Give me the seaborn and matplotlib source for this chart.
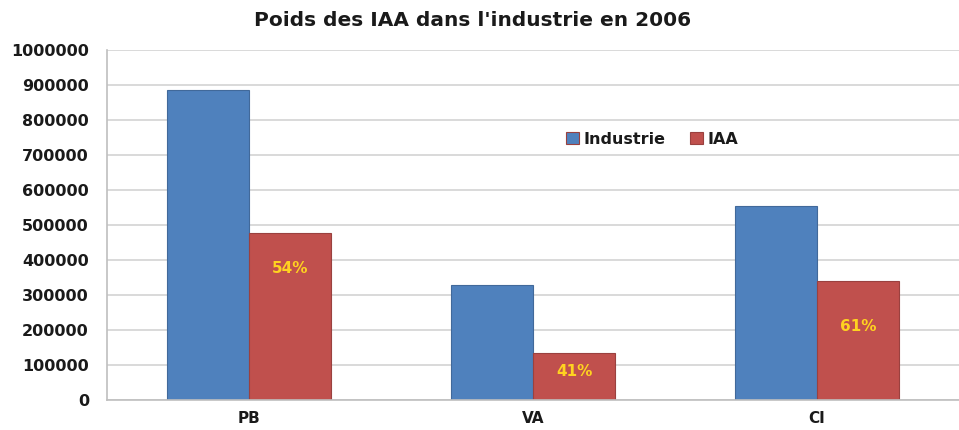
import pandas as pd
import matplotlib
matplotlib.use("Agg")
import matplotlib.pyplot as plt
import seaborn as sns

# Données
categories = ["PB", "VA", "CI"]
industrie = [885000, 328000, 555000]
iaa = [476000, 134000, 339000]
parts = ["54%", "41%", "61%"]
series = ["Industrie", "IAA"]

# hauteur des étiquettes (mise en page)
label_y = [377000, 80000, 209000]

df = pd.DataFrame({
    "categorie": categories * 2,
    "valeur": industrie + iaa,
    "serie": [series[0]] * len(categories) + [series[1]] * len(categories),
})

sns.set_style("white")
plt.rcParams["font.family"] = ["DejaVu Sans"]
plt.rcParams["text.color"] = "#1a1a1a"
plt.rcParams["xtick.color"] = "#1a1a1a"
plt.rcParams["ytick.color"] = "#1a1a1a"

fig = plt.figure(figsize=(9.59, 4.30), dpi=100)
ax = fig.add_axes([0.1116, 0.0698, 0.8884, 0.8139])

sns.barplot(data=df, x="categorie", y="valeur", hue="serie",
            palette={"Industrie": "#4F81BD", "IAA": "#C0504D"},
            saturation=1, width=0.58, gap=0, edgecolor="#41699a",
            linewidth=0.8, errorbar=None, ax=ax)
for p in ax.patches[len(categories):]:
    p.set_edgecolor("#9a413f")

ax.set_xlim(-0.5, 2.5)
ax.set_ylim(0, 1000000)
ax.set_yticks(range(0, 1000001, 100000))
ax.set_yticklabels([str(v) for v in range(0, 1000001, 100000)])
ax.yaxis.grid(True, color="#d9d9d9", linewidth=1.4)
ax.set_axisbelow(True)
ax.tick_params(axis="y", length=0, labelsize=11.5, pad=13)
ax.tick_params(axis="x", length=0, labelsize=11, pad=8)
for lab in ax.get_xticklabels() + ax.get_yticklabels():
    lab.set_fontweight("bold")
ax.set_xlabel("")
ax.set_ylabel("")

for s in ["top", "right"]:
    ax.spines[s].set_visible(False)
for s in ["left", "bottom"]:
    ax.spines[s].set_color("#bfbfbf")
    ax.spines[s].set_linewidth(1.2)

for i, (txt, y) in enumerate(zip(parts, label_y)):
    ax.text(i + 0.145, y, txt, ha="center", va="center",
            color="#FFD320", fontweight="bold", fontsize=11)

ax.legend(loc="center", bbox_to_anchor=(0.64, 0.745), ncol=2, frameon=False,
          handlelength=0.8, handleheight=0.8, handletextpad=0.3,
          columnspacing=1.5, prop={"weight": "bold", "size": 11.5})

fig.suptitle("Poids des IAA dans l'industrie en 2006", x=0.493, y=0.975,
             fontsize=14.5, fontweight="bold")

fig.savefig("out.png", dpi=100)
